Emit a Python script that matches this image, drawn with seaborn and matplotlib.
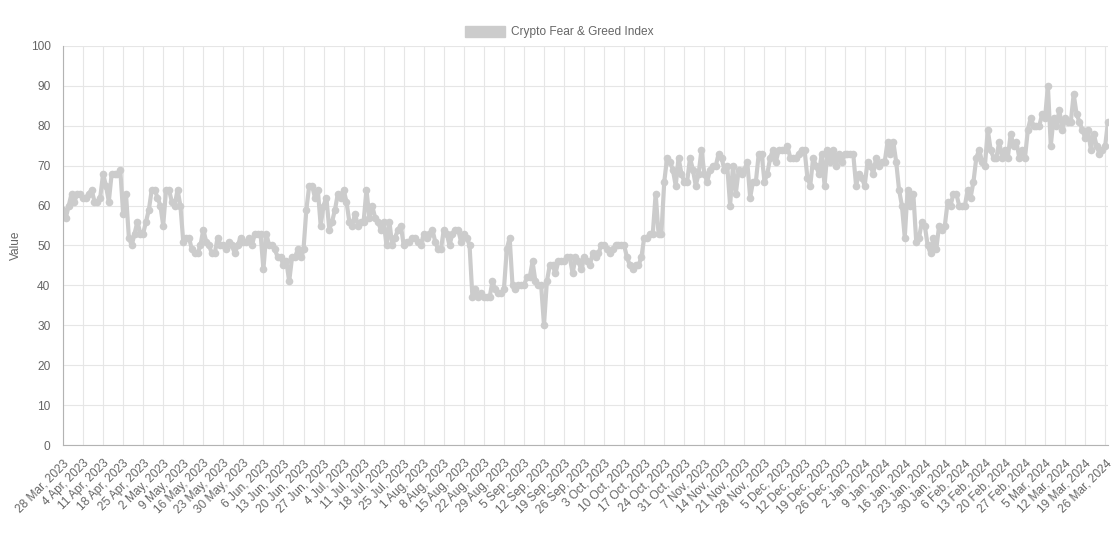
#!/usr/bin/env python3

import matplotlib
matplotlib.use("Agg")
import matplotlib.pyplot as plt
from matplotlib.patches import Patch
import pandas as pd
import seaborn as sns


series_name = "Crypto Fear & Greed Index"
start_date = "2023-03-28"

# one value per day, one week per row
fear_greed = [
	59, 57, 60, 63, 61, 63, 63,
	62, 62, 63, 64, 61, 61, 62,
	68, 65, 61, 68, 68, 68, 69,
	58, 63, 52, 50, 53, 56, 53,
	53, 56, 59, 64, 64, 62, 60,
	55, 64, 64, 61, 60, 64, 60,
	51, 52, 52, 49, 48, 48, 50,
	54, 51, 50, 48, 48, 52, 50,
	50, 49, 51, 50, 48, 50, 52,
	51, 51, 52, 50, 53, 53, 53,
	44, 53, 50, 50, 49, 47, 47,
	45, 46, 41, 47, 47, 49, 47,
	49, 59, 65, 65, 62, 64, 55,
	60, 62, 54, 56, 59, 63, 62,
	64, 61, 56, 55, 58, 55, 56,
	56, 64, 57, 60, 57, 56, 54,
	56, 50, 56, 50, 52, 54, 55,
	50, 51, 51, 52, 52, 51, 50,
	53, 52, 53, 54, 51, 49, 49,
	54, 53, 50, 53, 54, 54, 51,
	53, 52, 50, 37, 39, 37, 38,
	37, 37, 37, 41, 39, 38, 38,
	39, 49, 52, 40, 39, 40, 40,
	40, 42, 42, 46, 41, 40, 40,
	30, 41, 45, 45, 43, 46, 46,
	46, 47, 47, 43, 47, 46, 44,
	47, 46, 45, 48, 47, 48, 50,
	50, 49, 48, 49, 50, 50, 50,
	50, 47, 45, 44, 45, 45, 47,
	52, 52, 53, 53, 63, 53, 53,
	66, 72, 71, 69, 65, 72, 68,
	66, 66, 72, 69, 65, 68, 74,
	68, 66, 69, 70, 70, 73, 72,
	69, 70, 60, 70, 63, 69, 68,
	69, 71, 62, 66, 66, 73, 73,
	66, 68, 72, 74, 71, 74, 74,
	74, 75, 72, 72, 72, 73, 74,
	74, 67, 65, 72, 70, 68, 73,
	65, 74, 71, 74, 70, 73, 71,
	73, 73, 73, 73, 65, 68, 67,
	65, 71, 70, 68, 72, 70, 71,
	71, 76, 73, 76, 71, 64, 60,
	52, 64, 60, 63, 51, 52, 56,
	55, 50, 48, 52, 49, 55, 54,
	55, 61, 60, 63, 63, 60, 60,
	60, 64, 62, 66, 72, 74, 71,
	70, 79, 74, 72, 72, 76, 72,
	74, 72, 78, 75, 76, 72, 74,
	72, 79, 82, 80, 80, 80, 83,
	82, 90, 75, 82, 80, 84, 79,
	82, 81, 81, 88, 83, 81, 79,
	77, 79, 74, 78, 75, 73, 74,
	75, 81,
]

y_ticks = list(range(0, 101, 10))

line_color = "#cccccc"
text_color = "#666666"


def plot_graph():
	dates = pd.date_range(start_date, periods=len(fear_greed), freq="D")
	data = pd.DataFrame({"Date": dates, "Value": fear_greed})

	sns.set_theme(style="whitegrid")
	plt.rcParams["font.family"] = ["Liberation Sans", "DejaVu Sans"]

	fig = plt.figure(figsize=(11.19, 5.33), dpi=100)
	ax = fig.add_axes([0.0563, 0.1651, 0.9339, 0.7486])

	sns.lineplot(data=data, x="Date", y="Value", ax=ax,
				 color=line_color, linewidth=3, marker="o",
				 markersize=5.5, markeredgewidth=0, legend=False)

	ax.set_xlim(dates[0], dates[-1])
	ax.set_ylim(0, 100)
	ax.set_yticks(y_ticks)

	tick_dates = dates[::7]
	ax.set_xticks(tick_dates)
	ax.set_xticklabels([d.strftime("%-d %b, %Y") for d in tick_dates],
					   rotation=45, ha="right", rotation_mode="anchor")

	ax.set_xlabel("")
	ax.set_ylabel("Value", color=text_color, fontsize=8.6, labelpad=6)

	ax.grid(True, color="#e6e6e6", linewidth=0.8)
	ax.tick_params(axis="both", colors=text_color, labelsize=8.6,
				   length=6, width=0.8, pad=3)
	ax.tick_params(axis="both", color="#e6e6e6")
	for side in ["top", "right"]:
		ax.spines[side].set_visible(False)
	for side in ["left", "bottom"]:
		ax.spines[side].set_color("#b3b3b3")
		ax.spines[side].set_linewidth(0.8)

	handle = Patch(facecolor=line_color, edgecolor=line_color, label=series_name)
	fig.legend(handles=[handle], loc="center", bbox_to_anchor=(0.5, 0.940),
			   frameon=False, fontsize=8.6, handlelength=3.3, handleheight=1.1,
			   handletextpad=0.5, labelcolor=text_color)

	plt.savefig("out.png", dpi=100)


if __name__ == '__main__':
	plot_graph()
